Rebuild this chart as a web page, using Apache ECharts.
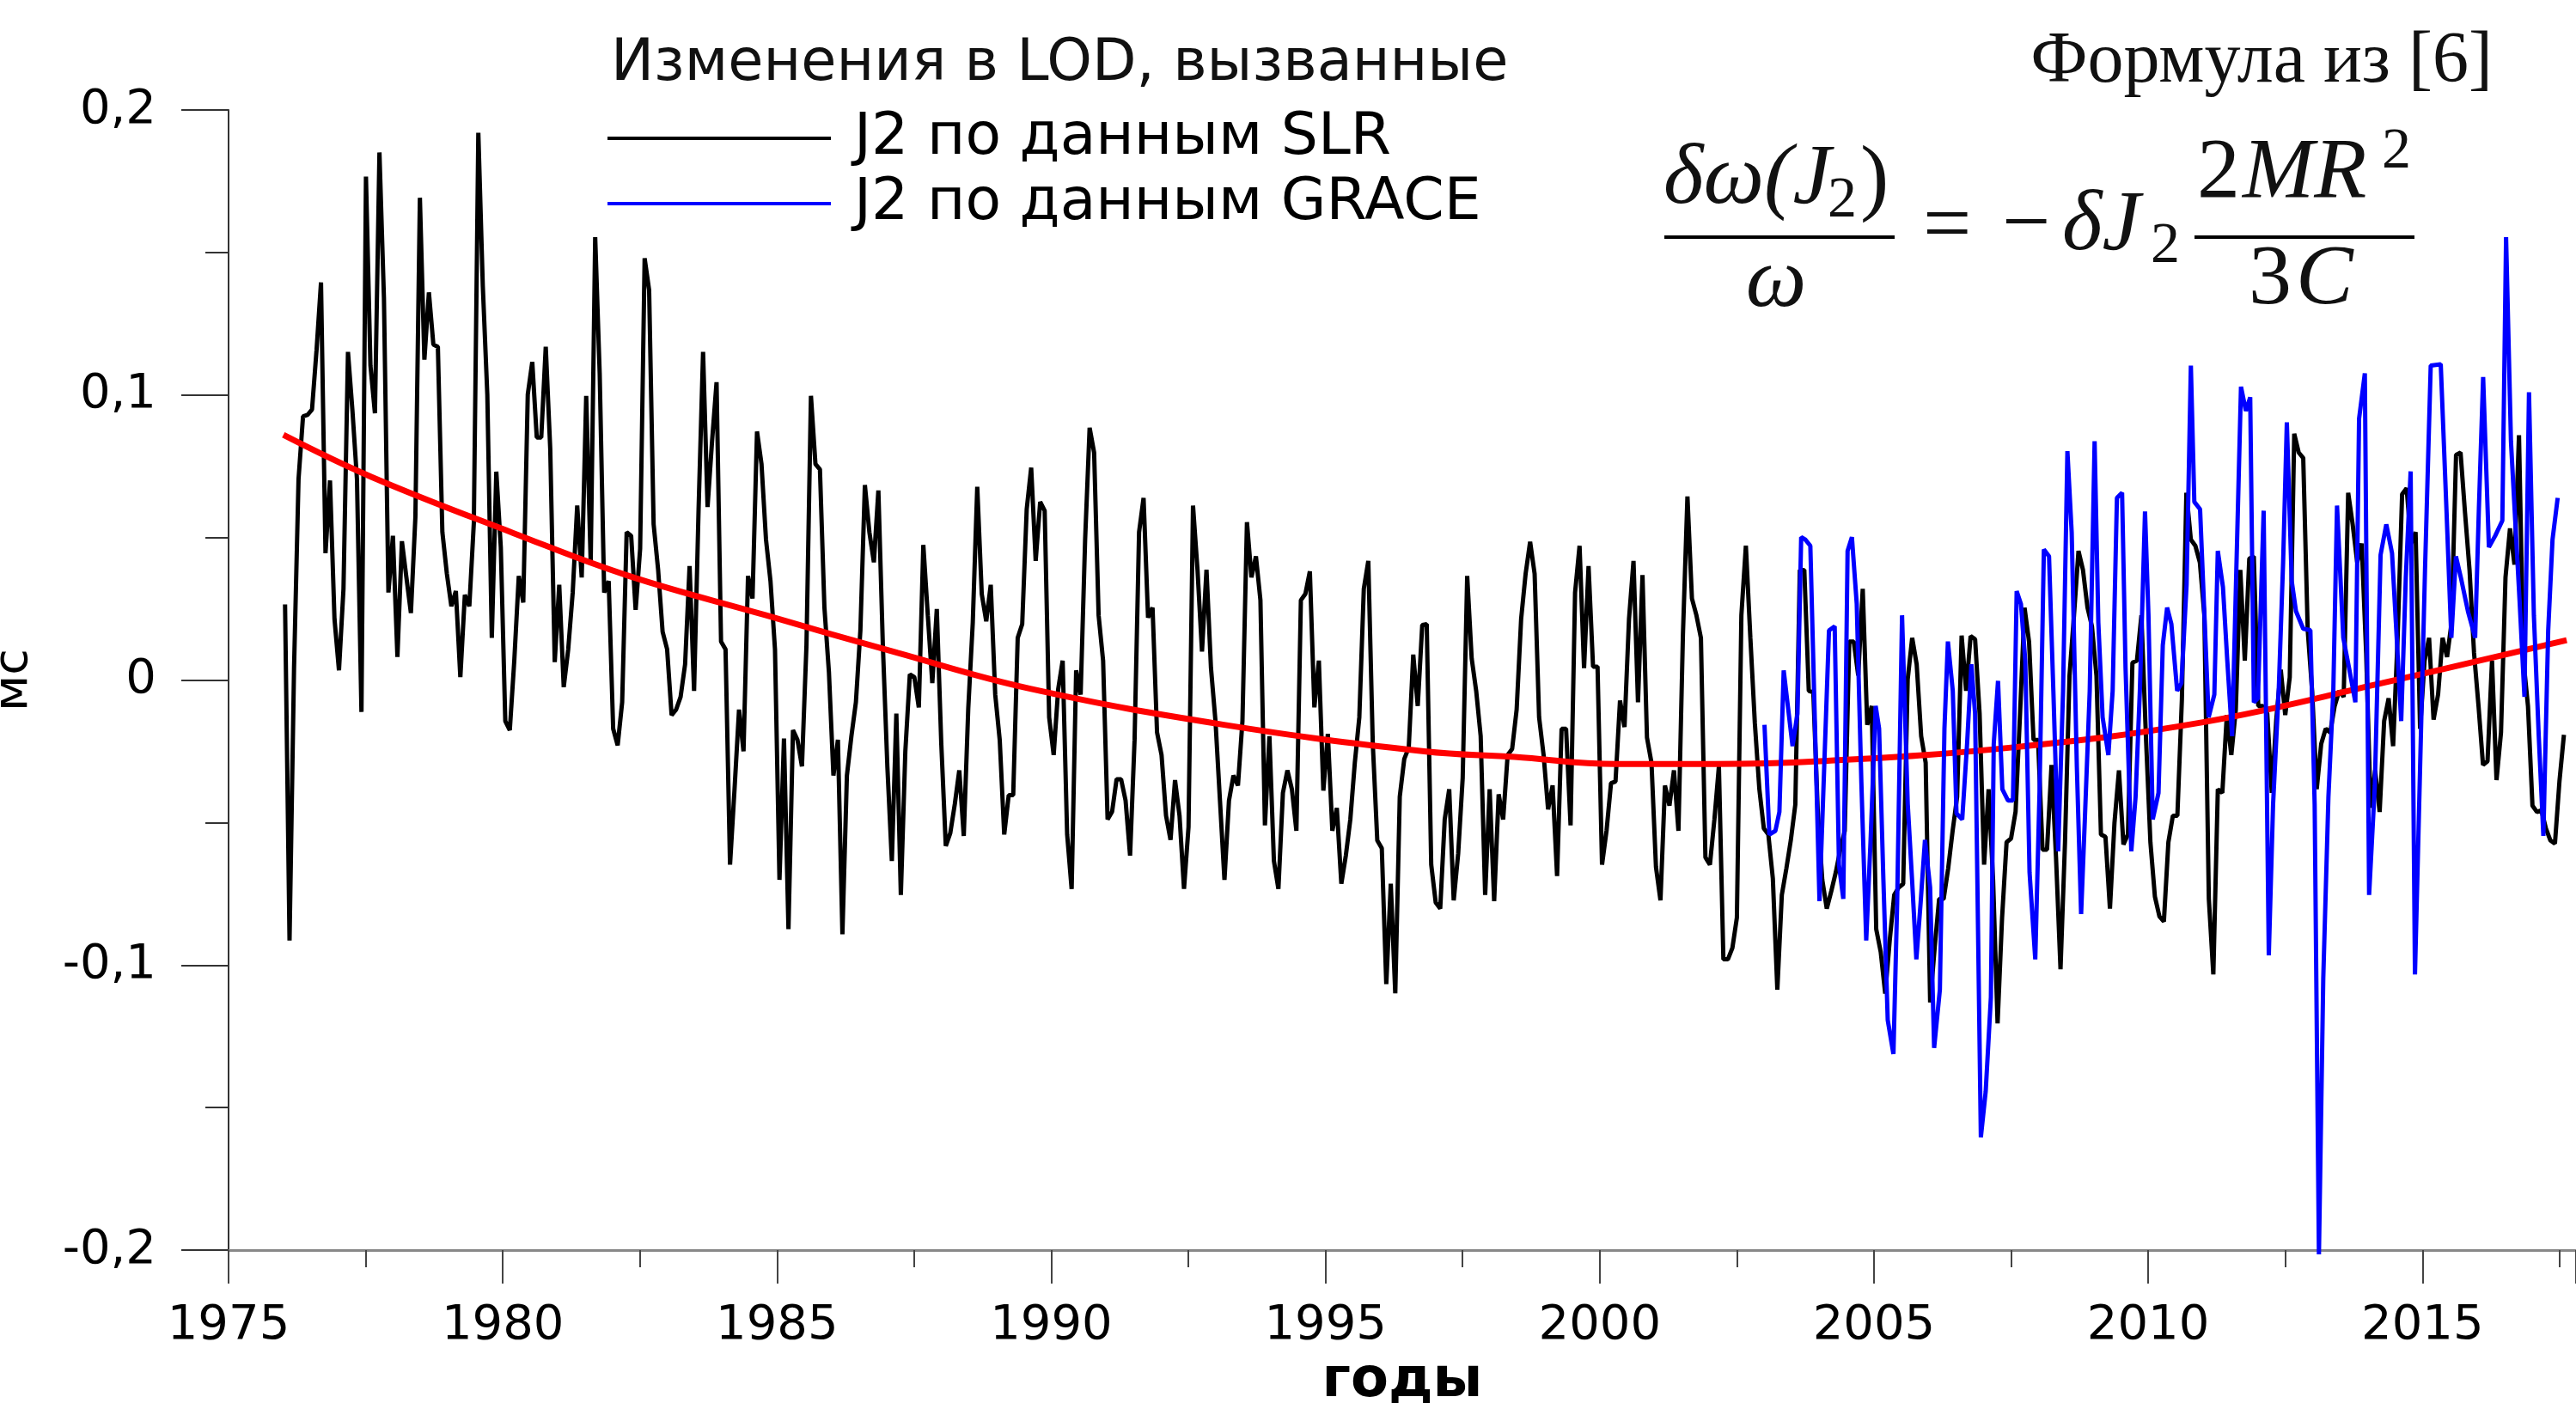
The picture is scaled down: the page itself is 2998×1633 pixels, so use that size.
<!DOCTYPE html>
<html>
<head>
<meta charset="utf-8">
<script src="https://cdn.jsdelivr.net/npm/echarts@6/dist/echarts.min.js"></script>
<style>
html,body{margin:0;padding:0;background:#fff;}
#chart{width:2998px;height:1633px;}
</style>
</head>
<body>
<div id="chart"></div>
<script>
// ---------- DATA ----------
// J2 from SLR (black), evenly spaced in time
const slrStart = 1976.03;
const slrEnd = 2017.58;
const slrValues = [
0.0265,-0.0914,0.0042,0.0705,0.0925,0.0930,0.0949,0.1156,0.1395,0.0445,
0.0700,0.0214,0.0034,0.0320,0.1151,0.0944,0.0705,-0.0112,0.1766,0.1103,
0.0936,0.1851,0.1342,0.0307,0.0506,0.0081,0.0487,0.0360,0.0235,0.0572,
0.1692,0.1124,0.1360,0.1177,0.1169,0.0519,0.0373,0.0259,0.0312,0.0010,
0.0299,0.0259,0.0551,0.1920,0.1381,0.1002,0.0148,0.0731,0.0466,-0.0144,
-0.0176,0.0068,0.0365,0.0272,0.1002,0.1116,0.0851,0.0851,0.1169,0.0811,
0.0063,0.0334,-0.0025,0.0108,0.0307,0.0612,0.0360,0.0997,0.0413,0.1554,
0.1076,0.0307,0.0347,-0.0171,-0.0229,-0.0078,0.0519,0.0506,
0.0246,0.0461,0.1480,0.1368,0.0546,0.0387,0.0169,0.0108,-0.0123,-0.0104,
-0.0059,0.0055,0.0400,-0.0038,0.0599,0.1151,0.0607,0.0838,0.1045,0.0135,
0.0108,-0.0648,-0.0383,-0.0104,-0.0250,0.0365,0.0286,0.0872,0.0758,0.0493,
0.0347,0.0108,-0.0701,-0.0205,-0.0874,-0.0176,-0.0210,-0.0303,0.0121,0.0997,
0.0758,0.0739,0.0254,0.0028,-0.0335,-0.0210,-0.0892,-0.0335,-0.0197,-0.0078,
0.0174,0.0684,0.0519,0.0413,0.0665,0.0121,-0.0303,-0.0635,-0.0118,-0.0754,
-0.0250,0.0020,0.0010,-0.0096,0.0474,0.0227,-0.0011,0.0249,-0.0224,-0.0582,
-0.0537,-0.0436,-0.0317,-0.0547,-0.0099,0.0201,0.0678,0.0302,0.0206,0.0334,
-0.0051,-0.0210,-0.0542,-0.0404,-0.0404,0.0148,0.0196,0.0599,0.0745,
0.0418,0.0625,0.0594,-0.0131,-0.0263,-0.0033,0.0068,-0.0542,-0.0733,0.0034,
-0.0051,0.0493,0.0885,0.0798,0.0227,0.0068,-0.0489,-0.0462,-0.0348,-0.0348,
-0.0423,-0.0616,-0.0210,0.0519,0.0639,0.0219,0.0254,-0.0184,-0.0263,-0.0476,
-0.0561,-0.0351,-0.0476,-0.0733,-0.0516,0.0612,0.0387,0.0100,0.0387,0.0042,
-0.0144,-0.0423,-0.0701,-0.0423,-0.0335,-0.0370,-0.0144,0.0554,0.0360,0.0434,
0.0280,-0.0510,-0.0197,-0.0635,-0.0733,-0.0396,-0.0317,-0.0383,-0.0529,0.0280,
0.0302,0.0381,-0.0096,0.0068,-0.0388,-0.0189,-0.0529,-0.0449,-0.0715,-0.0616,
-0.0489,-0.0290,-0.0131,0.0320,0.0418,-0.0224,-0.0563,-0.0590,-0.1067,-0.0715,
-0.1099,-0.0409,-0.0277,-0.0237,0.0089,-0.0091,0.0193,
0.0196,-0.0648,-0.0781,-0.0802,-0.0489,-0.0383,-0.0773,-0.0608,-0.0343,0.0365,
0.0076,-0.0038,-0.0197,-0.0754,-0.0383,-0.0776,-0.0401,-0.0489,-0.0263,-0.0242,
-0.0104,0.0214,0.0373,0.0485,0.0373,-0.0131,-0.0263,-0.0454,-0.0370,-0.0688,
-0.0171,-0.0171,-0.0510,0.0307,0.0471,0.0042,0.0400,0.0047,0.0047,-0.0648,
-0.0529,-0.0362,-0.0356,-0.0072,-0.0165,0.0214,0.0418,-0.0078,0.0368,-0.0202,
-0.0290,-0.0656,-0.0773,-0.0370,-0.0441,-0.0317,-0.0529,0.0161,0.0644,0.0286,
0.0227,0.0148,-0.0622,-0.0648,-0.0489,-0.0303,-0.0980,-0.0980,-0.0940,-0.0834,
0.0227,0.0471,0.0148,-0.0152,-0.0383,-0.0521,-0.0542,-0.0696,-0.1086,-0.0754,
-0.0662,-0.0562,-0.0437,0.0386,0.0386,-0.0038,-0.0043,
-0.0462,-0.0701,-0.0802,-0.0741,-0.0675,-0.0595,-0.0529,0.0135,0.0135,0.0016,
0.0320,-0.0157,-0.0091,-0.0874,-0.0954,-0.1100,-0.0914,-0.0754,-0.0728,-0.0715,
0.0002,0.0148,0.0055,-0.0197,-0.0290,-0.1131,-0.0940,-0.0768,-0.0768,-0.0662,
-0.0529,-0.0410,0.0156,-0.0038,0.0154,0.0143,-0.0118,-0.0648,-0.0383,-0.0701,
-0.1205,-0.0834,-0.0569,-0.0556,-0.0462,-0.0118,0.0254,0.0135,-0.0210,-0.0210,
-0.0595,-0.0595,-0.0298,-0.0622,-0.1015,-0.0569,0.0015,0.0227,0.0453,0.0386,
0.0254,0.0188,0.0015,-0.0542,-0.0550,-0.0802,-0.0502,-0.0317,-0.0577,-0.0542,
0.0061,0.0068,0.0227,-0.0197,-0.0569,-0.0760,-0.0829,-0.0847,-0.0569,-0.0476,
-0.0476,-0.0070,0.0657,0.0493,0.0471,0.0413,0.0227,
-0.0768,-0.1033,-0.0383,-0.0396,-0.0123,-0.0263,-0.0104,0.0386,0.0068,0.0426,
0.0434,-0.0091,-0.0091,-0.0118,-0.0396,-0.0139,0.0036,-0.0123,0.0010,0.0864,
0.0798,0.0779,0.0174,-0.0043,-0.0383,-0.0224,-0.0171,-0.0184,-0.0091,-0.0038,
-0.0059,0.0657,0.0546,0.0413,0.0479,0.0095,-0.0448,-0.0317,-0.0463,-0.0144,
-0.0064,-0.0232,0.0148,0.0652,0.0673,0.0479,0.0519,-0.0171,0.0068,0.0148,
-0.0139,-0.0051,0.0148,0.0081,0.0201,0.0790,0.0798,0.0586,0.0386,0.0095,
-0.0091,-0.0298,-0.0285,0.0068,-0.0351,-0.0184,0.0360,0.0532,0.0405,0.0859,
0.0068,-0.0091,-0.0441,-0.0463,-0.0457,-0.0521,-0.0563,-0.0574,-0.0356,-0.0192
];

// J2 from GRACE (blue)
const graceYears = [
2003.004,2003.093,2003.203,2003.276,2003.354,2003.516,2003.605,2003.673,2003.746,2003.840,
2004.007,2004.127,2004.180,2004.284,2004.362,2004.441,2004.519,2004.598,2004.686,2004.770,
2004.859,2004.937,2005.031,2005.094,2005.172,2005.251,2005.355,2005.423,2005.512,2005.616,
2005.695,2005.773,2005.851,2005.930,2006.024,2006.097,2006.202,2006.285,2006.348,2006.437,
2006.505,2006.609,2006.698,2006.776,2006.844,2006.949,2007.037,2007.132,2007.184,2007.262,
2007.341,2007.445,2007.534,2007.602,2007.680,2007.759,2007.837,2007.941,2008.020,2008.098,
2008.192,2008.271,2008.359,2008.448,2008.527,2008.605,2008.699,2008.777,2008.845,2008.934,
2009.023,2009.091,2009.169,2009.274,2009.352,2009.430,2009.524,2009.587,2009.692,2009.770,
2009.848,2009.942,2010.005,2010.083,2010.188,2010.266,2010.345,2010.423,2010.528,2010.606,
2010.700,2010.778,2010.841,2010.946,2011.102,2011.206,2011.269,2011.363,2011.442,2011.530,
2011.692,2011.781,2011.860,2011.927,2012.001,2012.105,2012.199,2012.277,2012.382,2012.460,
2012.528,2012.617,2012.695,2012.826,2012.957,2013.035,2013.113,2013.192,2013.286,2013.375,
2013.443,2013.557,2013.662,2013.777,2013.845,2013.950,2014.028,2014.132,2014.237,2014.341,
2014.446,2014.524,2014.613,2014.697,2014.785,2014.864,2014.958,2015.047,2015.151,2015.334,
2015.438,2015.527,2015.611,2015.700,2015.830,2015.961,2016.029,2016.107,2016.212,2016.327,
2016.457,2016.525,2016.614,2016.692,2016.771,2016.860,2016.943,2017.032,2017.121,2017.205,
2017.293,2017.372,2017.466
];
const graceValues = [
-0.0157,-0.0542,-0.0529,-0.0463,0.0034,-0.0232,-0.0118,0.0501,0.0493,0.0471,
-0.0776,-0.0118,0.0174,0.0188,-0.0648,-0.0768,0.0453,0.0501,0.0267,-0.0357,
-0.0914,-0.0569,-0.0091,-0.0171,-0.0701,-0.1193,-0.1312,-0.0781,0.0227,-0.0436,
-0.0701,-0.0980,-0.0781,-0.0561,-0.0728,-0.1291,-0.1086,-0.0171,0.0135,-0.0038,
-0.0468,-0.0489,-0.0224,0.0055,-0.0118,-0.1604,-0.1444,-0.1113,-0.0224,-0.0003,
-0.0383,-0.0423,-0.0423,0.0312,0.0267,0.0068,-0.0675,-0.0980,-0.0383,0.0458,
0.0434,-0.0038,-0.0601,-0.0038,0.0803,0.0519,-0.0303,-0.0821,-0.0489,-0.0038,
0.0838,0.0201,-0.0131,-0.0263,-0.0038,0.0639,0.0657,0.0042,-0.0601,-0.0410,
-0.0038,0.0591,0.0227,-0.0489,-0.0396,0.0122,0.0254,0.0196,-0.0038,-0.0011,
0.0334,0.1103,0.0625,0.0599,-0.0131,-0.0051,0.0453,0.0326,0.0068,-0.0197,
0.1029,0.0944,0.0992,-0.0078,-0.0064,0.0594,-0.0966,-0.0436,-0.0025,0.0413,
0.0904,0.0347,0.0241,0.0180,0.0175,-0.0436,-0.2015,-0.1046,-0.0410,-0.0038,
0.0612,0.0148,0.0042,-0.0078,0.0917,0.1076,-0.0754,-0.0370,0.0439,0.0546,
0.0445,0.0174,-0.0144,0.0360,0.0732,-0.1033,-0.0303,0.0386,0.1103,0.1108,
0.0599,0.0148,0.0434,0.0360,0.0241,0.0148,0.0599,0.1063,0.0466,0.0506,
0.0559,0.1554,0.0838,0.0559,0.0280,-0.0059,0.1010,0.0227,-0.0197,-0.0547,
0.0174,0.0493,0.0639
];

// red trend curve (read at several points)
const trendYears  = [1976.0, 1977.6, 1980.2, 1982.3, 1984.8, 1987.2, 1989.6, 1993.15, 1996.8, 1998.45, 2000.3, 2002.1, 2004.0, 2007.5, 2011.0, 2014.26, 2017.63];
const trendValues = [0.086, 0.0713, 0.0515, 0.0365, 0.0227, 0.0095, -0.003, -0.0157, -0.025, -0.027, -0.0295, -0.0295, -0.0285, -0.0237, -0.0148, -0.0011, 0.014];

const legendNames = ['J2 по данным SLR', 'J2 по данным GRACE'];
const legendTitle = 'Изменения в LOD, вызванные';
const formulaSource = 'Формула из [6]';
const xName = 'годы';
const yName = 'мс';

// ---------- BUILD ----------
const slrStep = (slrEnd - slrStart) / (slrValues.length - 1);
const slrData = slrValues.map((v, i) => [slrStart + i * slrStep, v]);
const graceData = graceValues.map((v, i) => [graceYears[i], v]);
const trendData = trendValues.map((v, i) => [trendYears[i], v]);

const SANS = '"DejaVu Sans", "Liberation Sans", sans-serif';
const SERIF = '"Liberation Serif", "DejaVu Serif", serif';

function txt(x, y, text, font, align) {
  return {
    type: 'text', x: x, y: y, silent: true,
    style: { text: text, font: font, fill: '#111', align: align || 'left', textAlign: align || 'left',
             verticalAlign: 'middle', textVerticalAlign: 'middle' }
  };
}
function bar(x1, x2, y) {
  return { type: 'line', silent: true, shape: { x1: x1, y1: y, x2: x2, y2: y }, style: { stroke: '#000', lineWidth: 4 } };
}

const chart = echarts.init(document.getElementById('chart'), null, { renderer: 'canvas' });
chart.setOption({
  animation: false,
  backgroundColor: '#fff',
  grid: { left: 266, right: 0, top: 128, bottom: 178, containLabel: false, outerBoundsMode: 'none' },
  legend: {
    data: legendNames, orient: 'vertical', left: 707, top: 127, padding: 0,
    itemWidth: 260, itemHeight: 4, itemGap: 8, icon: 'rect', selectedMode: false,
    textStyle: { fontFamily: SANS, fontSize: 68, lineHeight: 66, color: '#000', padding: [0, 0, 0, 22] }
  },
  xAxis: {
    type: 'value', min: 1975, max: 2017.8, interval: 5,
    axisLine: { show: true, onZero: false, lineStyle: { color: '#888', width: 3 } },
    axisTick: { show: true, inside: false, length: 39, lineStyle: { color: '#444', width: 2 } },
    minorTick: { show: true, splitNumber: 2, length: 20, lineStyle: { color: '#444', width: 2 } },
    axisLabel: { margin: 60, fontFamily: SANS, fontSize: 56, color: '#000', showMaxLabel: false, showMinLabel: true,
                 formatter: v => String(v) },
    splitLine: { show: false },
    name: xName, nameLocation: 'middle', nameGap: 121,
    nameTextStyle: { fontFamily: SANS, fontSize: 64, fontWeight: 'bold', color: '#000' }
  },
  yAxis: {
    type: 'value', min: -0.2, max: 0.2, interval: 0.1,
    axisLine: { show: true, onZero: false, lineStyle: { color: '#333', width: 2 } },
    axisTick: { show: true, inside: false, length: 55, lineStyle: { color: '#333', width: 2 } },
    minorTick: { show: true, splitNumber: 2, length: 27, lineStyle: { color: '#333', width: 2 } },
    axisLabel: { margin: 84, fontFamily: SANS, fontSize: 56, color: '#000',
                 formatter: v => (Math.abs(v) < 1e-9 ? '0' : String(+v.toFixed(2)).replace('.', ',')) },
    splitLine: { show: false },
    name: yName, nameLocation: 'middle', nameRotate: 90, nameGap: 222,
    nameTextStyle: { fontFamily: SANS, fontSize: 56, color: '#000' }
  },
  series: [
    { name: legendNames[0], type: 'line', data: slrData, showSymbol: false, symbol: 'none',
      lineStyle: { color: '#000', width: 5 }, itemStyle: { color: '#000' }, z: 2 },
    { name: 'тренд', type: 'line', data: trendData, showSymbol: false, symbol: 'none', smooth: 0.4,
      lineStyle: { color: '#ff0000', width: 7 }, itemStyle: { color: '#ff0000' }, z: 3 },
    { name: legendNames[1], type: 'line', data: graceData, showSymbol: false, symbol: 'none', clip: false,
      lineStyle: { color: '#0000ff', width: 5 }, itemStyle: { color: '#0000ff' }, z: 4 }
  ],
  graphic: [
    txt(711, 76, legendTitle, '67px ' + SANS),
    txt(2901, 73, formulaSource, '84px ' + SERIF, 'right'),
    // formula: d omega(J2)/omega = -dJ2 * 2MR^2/3C
    txt(1936, 210, 'δω(J', 'italic 100px ' + SERIF),
    txt(2127, 234, '2', '68px ' + SERIF),
    txt(2165, 212, ')', '100px ' + SERIF),
    bar(1937, 2205, 276),
    txt(2067, 330, 'ω', 'italic 100px ' + SERIF, 'center'),
    txt(2238, 267, '=', '100px ' + SERIF),
    txt(2330, 265, '−', '100px ' + SERIF),
    txt(2400, 264, 'δJ', 'italic 100px ' + SERIF),
    txt(2503, 287, '2', '68px ' + SERIF),
    bar(2554, 2810, 276),
    txt(2557, 203, '2', '100px ' + SERIF),
    txt(2610, 203, 'MR', 'italic 100px ' + SERIF),
    txt(2772, 177, '2', '68px ' + SERIF),
    txt(2617, 327, '3', '100px ' + SERIF),
    txt(2672, 327, 'C', 'italic 100px ' + SERIF)
  ]
});
</script>
</body>
</html>
